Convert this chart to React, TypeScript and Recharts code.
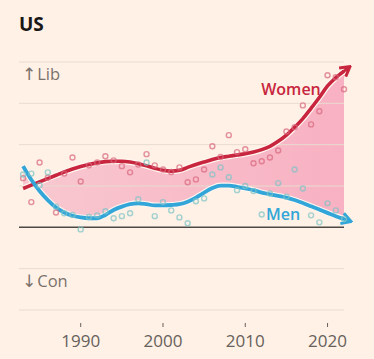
import React from 'react';
import { ComposedChart, Area, Line, Scatter, XAxis, YAxis, ReferenceLine } from 'recharts';

const years = [1983,1984,1985,1986,1987,1988,1989,1990,1991,1992,1993,1994,1995,1996,1997,1998,1999,2000,2001,2002,2003,2004,2005,2006,2007,2008,2009,2010,2011,2012,2013,2014,2015,2016,2017,2018,2019,2020,2021,2022];
const womenTrend = [0.94,1.02,1.10,1.18,1.26,1.34,1.41,1.47,1.52,1.56,1.59,1.60,1.60,1.58,1.54,1.49,1.43,1.38,1.36,1.38,1.45,1.52,1.58,1.64,1.69,1.72,1.75,1.78,1.82,1.88,1.96,2.08,2.23,2.42,2.63,2.88,3.14,3.42,3.62,3.78];
const menTrend = [1.48,1.15,0.88,0.66,0.48,0.36,0.28,0.24,0.22,0.22,0.30,0.42,0.50,0.56,0.58,0.56,0.53,0.53,0.54,0.56,0.62,0.72,0.84,0.95,1.01,1.01,0.98,0.94,0.90,0.84,0.80,0.76,0.72,0.66,0.59,0.51,0.43,0.35,0.27,0.20];
const womenPoll = [1.19,0.61,1.57,1.20,0.36,1.30,1.69,1.11,1.50,1.57,1.72,1.62,1.48,1.33,1.52,1.77,1.50,1.40,1.34,1.45,1.09,1.16,1.40,1.96,1.70,2.23,1.82,1.89,1.55,1.60,1.69,1.86,2.32,2.42,2.95,2.49,2.81,3.68,3.63,3.34];
const menPoll = [1.28,1.30,1.02,1.33,0.50,0.34,0.30,-0.05,0.25,0.29,0.39,0.22,0.27,0.34,0.68,1.57,0.27,0.61,0.41,0.24,0.10,0.63,0.70,1.28,1.45,1.21,0.90,1.00,0.88,0.31,0.82,1.07,0.74,1.40,0.94,0.29,0.12,0.58,0.41,0.20];
const xTicks = [1990, 2000, 2010, 2020];
const gridValues = [-2, -1, 1, 2, 3, 4];

const data = years.map((year, i) => ({
  year,
  women: womenTrend[i],
  men: menTrend[i],
  band: [menTrend[i], womenTrend[i]],
  wp: womenPoll[i],
  mp: menPoll[i],
}));

const BG = '#FFF1E5';
const WOMEN = '#C8253E';
const MEN = '#33A6D9';
const FONT = '"Open Sans", "Noto Sans", sans-serif';
const GREY = '#7A716C';

const Tick = (p: any) => {
  const { x, y, payload } = p;
  return (
    <g>
      <line x1={x} x2={x} y1={y + 13} y2={y + 17} stroke="#66605C" strokeWidth={1} />
      <text x={x} y={y + 37} textAnchor="middle" fontFamily={FONT} fontSize={17} fill="#66605C">
        {payload.value}
      </text>
    </g>
  );
};

const makeDot = (color: string) => (p: any) => {
  const { cx, cy } = p;
  if (cx == null || cy == null) return <g />;
  return <circle cx={cx} cy={cy} r={2.5} fill="none" stroke={color} strokeWidth={1.4} strokeOpacity={0.7} />;
};

export default function App() {
  return (
    <div style={{ position: 'absolute', left: 0, top: 0, width: 374, height: 359, background: BG, overflow: 'hidden' }}>
      <svg width={0} height={0} style={{ position: 'absolute' }}>
        <defs>
          <marker id="arrowW" viewBox="0 0 14 14" refX={5} refY={7} markerWidth={14} markerHeight={14} markerUnits="userSpaceOnUse" orient="auto">
            <path d="M0,7 L12,7 M3,1.5 L12.5,7 L3,12.5" fill="none" stroke={WOMEN} strokeWidth={3} strokeLinejoin="miter" />
          </marker>
          <marker id="arrowM" viewBox="0 0 14 14" refX={5} refY={7} markerWidth={14} markerHeight={14} markerUnits="userSpaceOnUse" orient="auto">
            <path d="M0,7 L12,7 M3,1.5 L12.5,7 L3,12.5" fill="none" stroke={MEN} strokeWidth={3} strokeLinejoin="miter" />
          </marker>
          <linearGradient id="bandFill" x1="0" y1="0" x2="1" y2="0">
            <stop offset="0%" stopColor="#F8C8D0" />
            <stop offset="100%" stopColor="#F8B1C2" />
          </linearGradient>
        </defs>
      </svg>
      <ComposedChart width={374} height={359} data={data} margin={{ top: 62, right: 30, left: 19, bottom: 0 }}>
        <XAxis
          dataKey="year"
          type="number"
          domain={[1982.5, 2022]}
          ticks={xTicks}
          axisLine={false}
          tickLine={false}
          tickSize={0}
          tickMargin={0}
          height={49}
          tick={<Tick />}
          interval={0}
        />
        <YAxis hide type="number" domain={[-2, 4]} />
        {gridValues.map((v) => (
          <ReferenceLine key={v} y={v} stroke="#E8DBD0" strokeWidth={1} />
        ))}
        <Area dataKey="band" type="monotone" stroke="none" fill="url(#bandFill)" fillOpacity={1} isAnimationActive={false} />
        <ReferenceLine y={0} stroke="#4D4845" strokeWidth={1.5} />
        <Scatter dataKey="wp" shape={makeDot('#D9667E')} isAnimationActive={false} />
        <Scatter dataKey="mp" shape={makeDot('#7CC3C6')} isAnimationActive={false} />
        <Line dataKey="women" type="monotone" stroke="#FFF6EF" strokeWidth={6} dot={false} isAnimationActive={false} />
        <Line dataKey="men" type="monotone" stroke="#FFF6EF" strokeWidth={6} dot={false} isAnimationActive={false} />
        <Line dataKey="women" type="monotone" stroke={WOMEN} strokeWidth={3.6} dot={false} markerEnd="url(#arrowW)" isAnimationActive={false} />
        <Line dataKey="men" type="monotone" stroke={MEN} strokeWidth={3.8} dot={false} markerEnd="url(#arrowM)" isAnimationActive={false} />
      </ComposedChart>
      <svg width={374} height={359} style={{ position: 'absolute', left: 0, top: 0, pointerEvents: 'none' }}>
        <text x={19} y={31} fontFamily={FONT} fontWeight={700} fontSize={19} fill="#1A1817">US</text>
        <text x={22} y={80} fontFamily={FONT} fontSize={16.5} fill={GREY}>
          <tspan fontFamily="DejaVu Sans" fontSize={17}>↑</tspan>
          <tspan dx={1}>Lib</tspan>
        </text>
        <text x={22} y={287} fontFamily={FONT} fontSize={16.5} fill={GREY}>
          <tspan fontFamily="DejaVu Sans" fontSize={17}>↓</tspan>
          <tspan dx={1}>Con</tspan>
        </text>
        <text x={291} y={95} textAnchor="middle" fontFamily={FONT} fontWeight={600} fontSize={16} fill={WOMEN}>Women</text>
        <text x={283} y={220} textAnchor="middle" fontFamily={FONT} fontWeight={600} fontSize={16} fill={MEN}>Men</text>
      </svg>
    </div>
  );
}
